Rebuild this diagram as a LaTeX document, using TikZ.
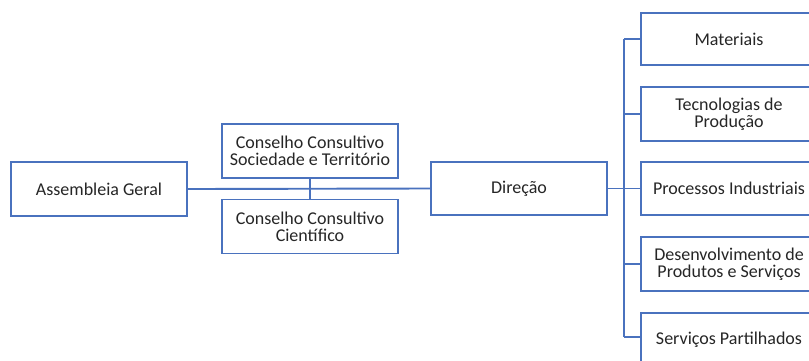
\documentclass[tikz,border=0pt]{standalone}
\usepackage{fontspec}
\setmainfont{Carlito}
\definecolor{bx}{HTML}{4A72BE}
\definecolor{tx}{HTML}{262626}
\begin{document}
\begin{tikzpicture}[x=1pt,y=-1pt,
  box/.style={draw=bx,line width=1.9pt,fill=white,minimum width=176pt,minimum height=54pt,inner sep=0pt,align=center,text=tx,font=\fontsize{18}{17}\selectfont},
  conn/.style={draw=bx,line width=1.9pt}]
\useasboundingbox (0,0) rectangle (809,360);
\node[box] (ag) at (99,189) {Assembleia Geral};
\node[box] (cs) at (310,151) {Conselho Consultivo\\Sociedade e Território};
\node[box] (cc) at (310,226.5) {Conselho Consultivo\\Científico};
\node[box,minimum height=53pt] (dir) at (519,188.5) {Direção};
\node[box,minimum height=52pt] (mat) at (729,39) {Materiais};
\node[box] (tec) at (729,114) {Tecnologias de\\Produção};
\node[box,minimum height=53pt] (pro) at (729,188.5) {Processos Industriais};
\node[box] (des) at (729,264) {Desenvolvimento de\\Produtos e Serviços};
\node[box] (ser) at (729,340) {Serviços Partilhados};
\coordinate (bt) at (624,39);
\coordinate (bb) at (624,337);
\draw[conn] (ag.east) -- (dir.west);
\draw[conn] (cs.south) -- (cc.north);
\draw[conn] (dir.east) -- (pro.west);
\draw[conn] (bt) -- (bb);
\draw[conn] (bt) -- (mat.west);
\draw[conn] (bt |- tec.west) -- (tec.west);
\draw[conn] (bt |- des.west) -- (des.west);
\draw[conn] (bb) -- (bb -| ser.west);
\end{tikzpicture}
\end{document}
